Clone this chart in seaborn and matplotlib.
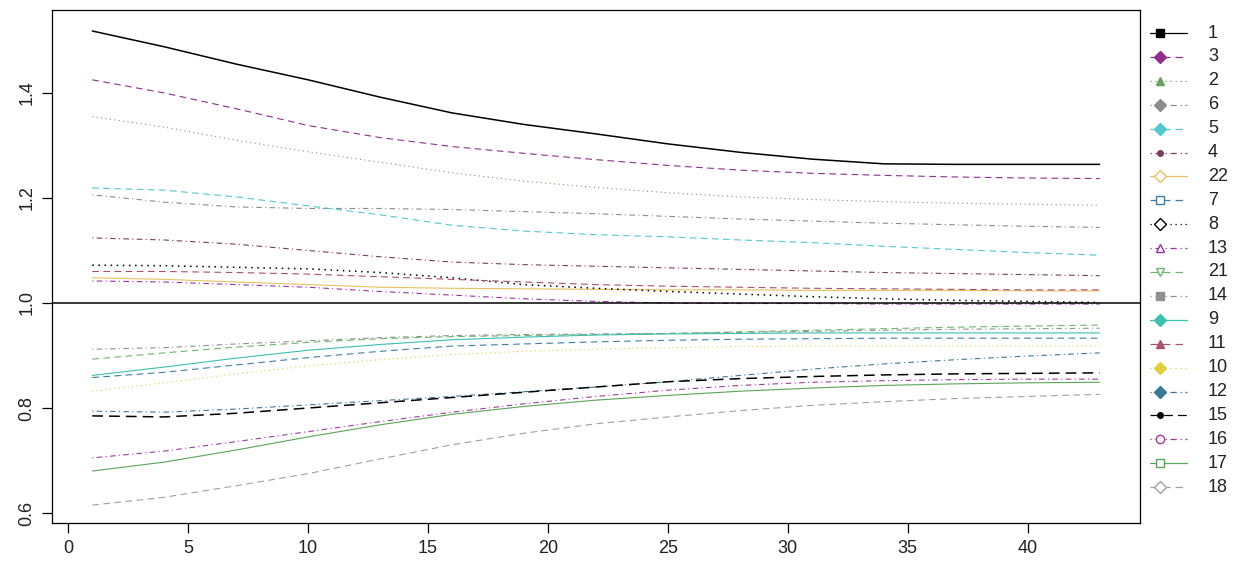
import pandas as pd
import seaborn as sns
import matplotlib.pyplot as plt
from matplotlib.lines import Line2D

# x positions (every third step) and one list per series
steps = [1, 4, 7, 10, 13, 16, 19, 22, 25, 28, 31, 34, 37, 40, 43]

s1 = [1.518, 1.488, 1.455, 1.425, 1.392, 1.362, 1.340, 1.322, 1.303, 1.287, 1.274, 1.265, 1.264, 1.264, 1.264]
s3 = [1.425, 1.400, 1.370, 1.338, 1.315, 1.298, 1.285, 1.273, 1.262, 1.253, 1.247, 1.243, 1.240, 1.238, 1.237]
s2 = [1.355, 1.335, 1.310, 1.288, 1.268, 1.248, 1.232, 1.220, 1.210, 1.202, 1.197, 1.193, 1.190, 1.188, 1.186]
s6 = [1.206, 1.192, 1.183, 1.180, 1.180, 1.178, 1.174, 1.170, 1.165, 1.160, 1.156, 1.152, 1.149, 1.146, 1.144]
s5 = [1.219, 1.215, 1.202, 1.185, 1.168, 1.148, 1.137, 1.130, 1.126, 1.120, 1.115, 1.108, 1.102, 1.096, 1.091]
s4 = [1.124, 1.120, 1.112, 1.100, 1.088, 1.078, 1.073, 1.070, 1.067, 1.064, 1.061, 1.058, 1.056, 1.054, 1.052]
s22 = [1.048, 1.045, 1.040, 1.035, 1.030, 1.028, 1.027, 1.026, 1.025, 1.025, 1.024, 1.024, 1.024, 1.023, 1.023]
s11 = [1.060, 1.060, 1.058, 1.055, 1.050, 1.045, 1.040, 1.035, 1.032, 1.030, 1.028, 1.027, 1.026, 1.025, 1.025]
s8 = [1.072, 1.071, 1.068, 1.065, 1.058, 1.048, 1.035, 1.028, 1.022, 1.017, 1.012, 1.008, 1.005, 1.003, 1.001]
s13 = [1.042, 1.040, 1.035, 1.030, 1.022, 1.015, 1.008, 1.003, 1.000, 0.999, 0.999, 0.998, 0.998, 0.998, 0.998]
s21 = [0.893, 0.905, 0.916, 0.925, 0.932, 0.936, 0.938, 0.940, 0.942, 0.945, 0.948, 0.951, 0.954, 0.956, 0.958]
s14 = [0.912, 0.915, 0.922, 0.928, 0.934, 0.938, 0.940, 0.941, 0.942, 0.944, 0.946, 0.948, 0.950, 0.951, 0.952]
s9 = [0.862, 0.878, 0.895, 0.910, 0.921, 0.930, 0.935, 0.939, 0.941, 0.942, 0.943, 0.943, 0.943, 0.943, 0.943]
s7 = [0.858, 0.868, 0.882, 0.896, 0.908, 0.918, 0.922, 0.926, 0.929, 0.931, 0.932, 0.933, 0.933, 0.933, 0.933]
s10 = [0.832, 0.848, 0.865, 0.880, 0.892, 0.902, 0.908, 0.912, 0.915, 0.917, 0.918, 0.918, 0.918, 0.918, 0.918]
s12 = [0.794, 0.792, 0.798, 0.806, 0.814, 0.822, 0.831, 0.840, 0.850, 0.862, 0.874, 0.884, 0.892, 0.899, 0.905]
s15 = [0.785, 0.783, 0.790, 0.800, 0.810, 0.820, 0.830, 0.840, 0.850, 0.856, 0.860, 0.863, 0.865, 0.866, 0.867]
s16 = [0.705, 0.718, 0.736, 0.755, 0.774, 0.792, 0.808, 0.822, 0.834, 0.843, 0.849, 0.852, 0.854, 0.855, 0.855]
s17 = [0.680, 0.697, 0.720, 0.745, 0.768, 0.788, 0.803, 0.815, 0.824, 0.832, 0.838, 0.843, 0.846, 0.848, 0.849]
s18 = [0.615, 0.630, 0.652, 0.675, 0.703, 0.730, 0.752, 0.770, 0.783, 0.795, 0.805, 0.812, 0.818, 0.822, 0.826]

legend_order = ["1", "3", "2", "6", "5", "4", "22", "7", "8", "13",
                "21", "14", "9", "11", "10", "12", "15", "16", "17", "18"]

series = {"1": s1, "3": s3, "2": s2, "6": s6, "5": s5, "4": s4, "22": s22,
          "7": s7, "8": s8, "13": s13, "21": s21, "14": s14, "9": s9,
          "11": s11, "10": s10, "12": s12, "15": s15, "16": s16, "17": s17, "18": s18}

colors = {"1": "black", "3": "#8e2f8e", "2": "#6aa060", "6": "#8c8c8c", "5": "#4fc9cf",
          "4": "#7a3f5f", "22": "#e8c060", "7": "#3d7fa8", "8": "black", "13": "#9b30a8",
          "21": "#6bb86b", "14": "#909090", "9": "#3cc0b0", "11": "#a8506c", "10": "#e0d040",
          "12": "#3a7898", "15": "black", "16": "#a03aa0", "17": "#5aa55a", "18": "#a0a0a0"}

solid, dashed, dotted, dotdash = "", (6, 4), (1, 3), (1, 3, 5, 3)
dashes = {"1": solid, "3": dashed, "2": dotted, "6": dotdash, "5": dashed, "4": dotdash,
          "22": solid, "7": dashed, "8": dotted, "13": dotdash, "21": dashed, "14": dotdash,
          "9": solid, "11": dashed, "10": dotted, "12": dotdash, "15": (7, 4), "16": dotdash,
          "17": solid, "18": dashed}

# legend marker: (symbol, filled)
markers = {"1": ("s", True), "3": ("D", True), "2": ("^", True), "6": ("D", True),
           "5": ("D", True), "4": ("o", True), "22": ("D", False), "7": ("s", False),
           "8": ("D", False), "13": ("^", False), "21": ("v", False), "14": ("s", True),
           "9": ("D", True), "11": ("^", True), "10": ("D", True), "12": ("D", True),
           "15": ("o", True), "16": ("o", False), "17": ("s", False), "18": ("D", False)}

rows = []
for name in legend_order:
    for x, v in zip(steps, series[name]):
        rows.append({"step": x, "value": v, "series": name})
df = pd.DataFrame(rows)

sns.set_style("white")
plt.rcParams["font.family"] = ["Liberation Sans", "DejaVu Sans"]
plt.rcParams["text.color"] = "black"
plt.rcParams["xtick.color"] = "black"
plt.rcParams["ytick.color"] = "black"

fig = plt.figure(figsize=(12.38, 5.73), dpi=100)
W, H = 1238, 573
ax = fig.add_axes([52 / W, 1 - 523 / H, (1140 - 52) / W, (523 - 10) / H])

sns.lineplot(data=df, x="step", y="value", hue="series", style="series",
             palette=colors, dashes=dashes, hue_order=legend_order,
             style_order=legend_order, linewidth=0.8, legend=False, ax=ax)
for line in ax.get_lines():
    if line.get_color() in ("black", "#000000", (0.0, 0.0, 0.0, 1.0)):
        line.set_linewidth(1.1)

ax.axhline(1.0, color="black", linewidth=1.1)

ax.set_xlim(-0.68, 44.68)
ax.set_ylim(0.581, 1.558)
ax.set_xticks([0, 5, 10, 15, 20, 25, 30, 35, 40])
ax.set_yticks([0.6, 0.8, 1.0, 1.2, 1.4])
ax.set_yticklabels(["0.6", "0.8", "1.0", "1.2", "1.4"], rotation=90, va="center")
ax.set_xlabel("")
ax.set_ylabel("")
ax.tick_params(axis="both", direction="out", length=7, width=0.9, labelsize=13,
               color="black", labelcolor="#222222", pad=5, bottom=True, left=True)
for sp in ax.spines.values():
    sp.set_color("black")
    sp.set_linewidth(0.9)

# legend drawn at the right edge, outside the plot box
for i, name in enumerate(legend_order):
    yy = 1 - (33 + 23.9 * i) / H
    col = colors[name]
    ls = "-" if dashes[name] == "" else (0, dashes[name])
    fig.add_artist(Line2D([1150 / W, 1187 / W], [yy, yy], color=col, linewidth=0.9,
                          linestyle=ls, transform=fig.transFigure))
    mk, filled = markers[name]
    ms = 4 if name in ("4", "15") else 6
    fig.add_artist(Line2D([1160 / W], [yy], marker=mk, markersize=ms, color=col,
                          markerfacecolor=col if filled else "white",
                          markeredgecolor=col, linestyle="none",
                          transform=fig.transFigure))
    fig.text(1208 / W, yy, name, fontsize=13, va="center", ha="left", color="#222222")

fig.savefig("out.png", dpi=100)
